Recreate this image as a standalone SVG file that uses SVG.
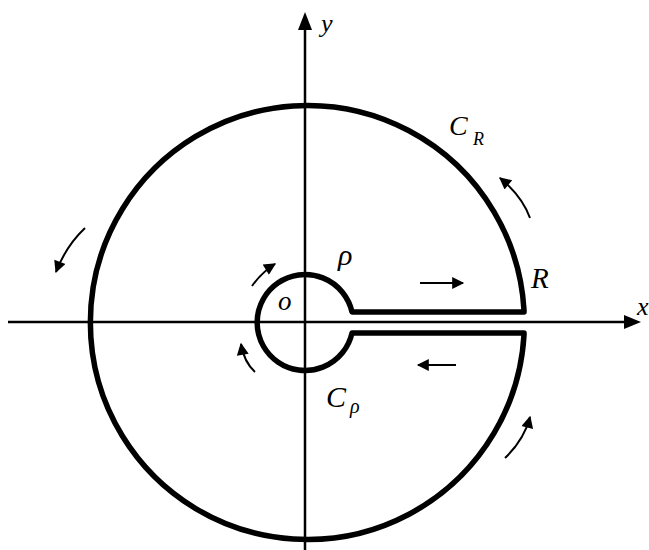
<svg xmlns="http://www.w3.org/2000/svg" width="649" height="550" viewBox="0 0 649 550">
<style>
.ax{stroke:#000;stroke-width:2.5;fill:none}
.ct{stroke:#000;stroke-width:5.5;fill:none;stroke-linejoin:round}
.ar{stroke:#000;stroke-width:2;fill:none}
.t{font-family:"Liberation Serif","Times New Roman",serif;font-style:italic;fill:#000}
</style>
<defs>
<marker id="ahL" viewBox="0 0 10 10" refX="9" refY="5" markerWidth="14" markerHeight="12" markerUnits="userSpaceOnUse" orient="auto">
<path d="M0,0 L10,5 L0,10 Z" fill="#000"/>
</marker>
</defs>
<rect width="649" height="550" fill="#fff"/>
<g id="axes">
<line class="ax" x1="305" y1="550" x2="305" y2="26"/>
<path d="M298,30 L305,12 L312,30 Z" fill="#000"/>
<line class="ax" x1="8" y1="322" x2="628" y2="322"/>
<path d="M624,315 L641,322 L624,329 Z" fill="#000"/>
</g>
<g id="contour">
<path class="ct" d="M352,312 L524,312 L524,310 A217 217 0 1 0 524,335 L524,333 L352,333 A48 48 0 1 1 352,312 Z"/>
</g>
<g id="connectors">
<line x1="420" y1="283" x2="463" y2="283" class="ar" marker-end="url(#ahL)"/>
<line x1="456" y1="365" x2="418" y2="365" class="ar" marker-end="url(#ahL)"/>
<path class="ar" d="M530,218 Q522,196 500,178" marker-end="url(#ahL)"/>
<path class="ar" d="M85,228 Q66,246 56,272" marker-end="url(#ahL)"/>
<path class="ar" d="M505,458 Q524,440 530,417" marker-end="url(#ahL)"/>
<path class="ar" d="M252,286 Q262,272 275,264" marker-end="url(#ahL)"/>
<path class="ar" d="M255,372 Q244,362 241,344" marker-end="url(#ahL)"/>
</g>
<g id="labels">
<text class="t" x="321" y="32" font-size="26">y</text>
<text class="t" x="637" y="315" font-size="26">x</text>
<text class="t" x="449" y="135" font-size="28">C</text>
<text class="t" x="473" y="145" font-size="18">R</text>
<text class="t" x="531" y="288" font-size="29">R</text>
<text class="t" x="338" y="265" font-size="30">ρ</text>
<text class="t" x="278" y="310" font-size="27">o</text>
<text class="t" x="326" y="407" font-size="30">C</text>
<text class="t" x="350" y="413" font-size="20">ρ</text>
</g>
</svg>
